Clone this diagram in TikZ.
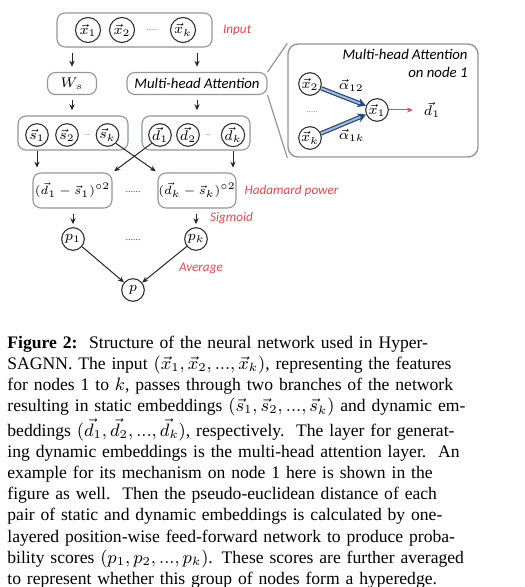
\documentclass[tikz,border=0pt]{standalone}
\usepackage{fontspec}
\setmainfont{Liberation Serif}
\newfontfamily\labelfont{Carlito}
\usetikzlibrary{arrows.meta,positioning,calc}

\definecolor{boxgray}{HTML}{8F979C}
\definecolor{notered}{HTML}{E4474C}
\definecolor{attblue}{HTML}{27467A}
\definecolor{attlight}{HTML}{9CBCE0}

\begin{document}
\begin{tikzpicture}[x=0.5pt,y=-0.5pt,
    graybox/.style={draw=boxgray,rounded corners=4pt,line width=0.55pt,inner sep=0pt},
    vec/.style={draw=black!80,circle,line width=0.55pt,minimum size=11.3pt,inner sep=0pt,font=\fontsize{7.5}{9}\selectfont},
    invec/.style={vec,minimum size=12.5pt},
    note/.style={text=notered,font=\labelfont\itshape\fontsize{6.6}{8}\selectfont},
    boxtext/.style={font=\labelfont\itshape\fontsize{7.4}{9}\selectfont},
    dotsep/.style={anchor=base,inner sep=0pt,text=black!70,font=\fontsize{3.6}{4}\selectfont},
    flow/.style={-{Stealth[length=3pt,width=2.6pt]},line width=0.5pt,black!85},
    gapflow/.style={flow,shorten <=2.6pt,shorten >=2.6pt},
    attn/.style={draw=attblue,double=attlight,double distance=1pt,line width=0.6pt,-{Stealth[length=4.2pt,width=4.6pt]}},
    caption/.style={inner sep=0pt,anchor=north west,text width=237.5pt,align=left,font=\fontsize{8.8}{10.6}\selectfont}]
  \useasboundingbox (0,0) rectangle (524,587);

  % input row
  \node[graybox,minimum width=77.5pt,minimum height=17pt] (inbox) at (134.5,30) {};
  \node[invec] (x1) at (88,30) {$\vec{x}_1$};
  \node[invec] (x2) at (122,30) {$\vec{x}_2$};
  \node[dotsep] (xdots) at (152,31) {......};
  \node[invec] (xk) at (183,30) {$\vec{x}_k$};
  \node[note,anchor=west] (inlabel) at (216,30) {Input};

  % two branches
  \node[graybox,minimum width=24.5pt,minimum height=11pt,font=\fontsize{7.5}{9}\selectfont] (ws) at (72,83.5) {$W_s$};
  \node[graybox,boxtext,minimum width=70pt,minimum height=11pt] (mha) at (197,83.5) {Multi-head Attention};
  \draw[gapflow] (ws.north |- inbox.south) -- (ws.north);
  \draw[gapflow] (mha.north |- inbox.south) -- (mha.north);

  % static and dynamic embeddings
  \node[graybox,minimum width=55pt,minimum height=17pt] (sbox) at (73,133) {};
  \node[vec] (s1) at (37,135) {$\vec{s}_1$};
  \node[vec] (s2) at (67,135) {$\vec{s}_2$};
  \node[dotsep] (sdots) at (87,136) {...};
  \node[vec] (sk) at (107.5,135) {$\vec{s}_k$};
  \node[graybox,minimum width=54pt,minimum height=17pt] (dbox) at (196,133) {};
  \node[vec] (d1) at (160,135) {$\vec{d}_1$};
  \node[vec] (d2) at (188,135) {$\vec{d}_2$};
  \node[dotsep] (ddots) at (208,136) {...};
  \node[vec] (dk) at (233,135) {$\vec{d}_k$};
  \draw[gapflow] (ws.south) -- (ws |- sbox.north);
  \draw[gapflow] (mha.south) -- (mha |- dbox.north);

  % hadamard power
  \node[graybox,minimum width=39.5pt,minimum height=17.5pt,font=\fontsize{6.5}{8}\selectfont] (h1) at (72.5,190.5) {$(\vec{d}_1-\vec{s}_1)^{\circ 2}$};
  \node[dotsep,font=\fontsize{5}{6}\selectfont] (hdots) at (133,193) {......};
  \node[graybox,minimum width=39pt,minimum height=17.5pt,font=\fontsize{6.5}{8}\selectfont] (hk) at (197,190.5) {$(\vec{d}_k-\vec{s}_k)^{\circ 2}$};
  \node[note,right=0.5pt of hk] (hlabel) {Hadamard power};
  \draw[flow,shorten >=2.4pt] (s1 |- sbox.south) -- (s1 |- h1.north);
  \draw[flow,shorten >=2.4pt] (dk |- dbox.south) -- (dk |- hk.north);
  \draw[flow,shorten >=1pt] (sk.south east) -- (hk.north west);
  \draw[flow,shorten >=1pt] (d1.south west) -- (h1.north east);

  % scores
  \node[vec] (p1) at (73,239) {$p_1$};
  \node[dotsep,font=\fontsize{5}{6}\selectfont] (pdots) at (133,241) {......};
  \node[vec] (pk) at (196,239) {$p_k$};
  \node[vec] (p) at (133,290) {$p$};
  \draw[flow,shorten <=2.5pt,shorten >=1.5pt] (h1.south -| p1) -- (p1);
  \draw[flow,shorten <=2.5pt,shorten >=1.5pt] (hk.south -| pk) -- (pk);
  \node[note,anchor=west] (siglabel) at (203,218) {Sigmoid};
  \draw[flow] (p1) -- (p);
  \draw[flow] (pk) -- (p);
  \node[note,anchor=west] (avglabel) at (172,268) {Average};

  % zoom on the attention layer
  \node[graybox,rounded corners=5pt,line width=0.7pt,minimum width=95pt,minimum height=56.5pt] (att) at (383,100.5) {};
  \draw[boxgray,line width=0.6pt] (mha.north east) -- (att.north west);
  \draw[boxgray,line width=0.6pt] (mha.south east) -- (att.south west);
  \node[boxtext,align=right,anchor=north east,inner sep=0pt] (atttitle) at (468,49) {Multi-head Attention\\on node 1};
  \node[vec] (ax2) at (310,84) {$\vec{x}_2$};
  \node[dotsep] (adots) at (312,113) {......};
  \node[vec] (axk) at (310,138) {$\vec{x}_k$};
  \node[vec] (ax1) at (377,110) {$\vec{x}_1$};
  \node[font=\fontsize{7.5}{9}\selectfont] (ad1) at (432,110) {$\vec{d}_1$};
  \draw[attn] (ax2) -- node[above right=-1pt and -6pt,font=\fontsize{7.5}{9}\selectfont] (a12) {$\vec{\alpha}_{12}$} (ax1);
  \draw[attn] (axk) -- node[below right=-1pt and -6pt,font=\fontsize{7.5}{9}\selectfont] (a1k) {$\vec{\alpha}_{1k}$} (ax1);
  \draw[-{Stealth[length=3pt,width=2.6pt]},notered,line width=0.5pt,shorten >=2pt] (ax1) -- (ad1);

  % caption
  \node[caption] (cap) at (7,335.5) {%
    \makebox[\linewidth][s]{\textbf{Figure 2:}\ \ Structure of the neural network used in Hyper-}\\
    \makebox[\linewidth][s]{SAGNN. The input $(\vec{x}_1, \vec{x}_2, ..., \vec{x}_k)$, representing the features}\\
    \makebox[\linewidth][s]{for nodes 1 to $k$, passes through two branches of the network}\\
    \makebox[\linewidth][s]{resulting in static embeddings $(\vec{s}_1, \vec{s}_2, ..., \vec{s}_k)$ and dynamic em-}\\
    \makebox[\linewidth][s]{beddings $(\vec{d}_1, \vec{d}_2, ..., \vec{d}_k)$, respectively.\ \ The layer for generat-}\\
    \makebox[\linewidth][s]{ing dynamic embeddings is the multi-head attention layer.\ \ An}\\
    \makebox[\linewidth][s]{example for its mechanism on node 1 here is shown in the}\\
    \makebox[\linewidth][s]{figure as well.\ \ Then the pseudo-euclidean distance of each}\\
    \makebox[\linewidth][s]{pair of static and dynamic embeddings is calculated by one-}\\
    \makebox[\linewidth][s]{layered position-wise feed-forward network to produce proba-}\\
    \makebox[\linewidth][s]{bility scores $(p_1, p_2, ..., p_k)$. These scores are further averaged}\\
    to represent whether this group of nodes form a hyperedge.};
\end{tikzpicture}
\end{document}
